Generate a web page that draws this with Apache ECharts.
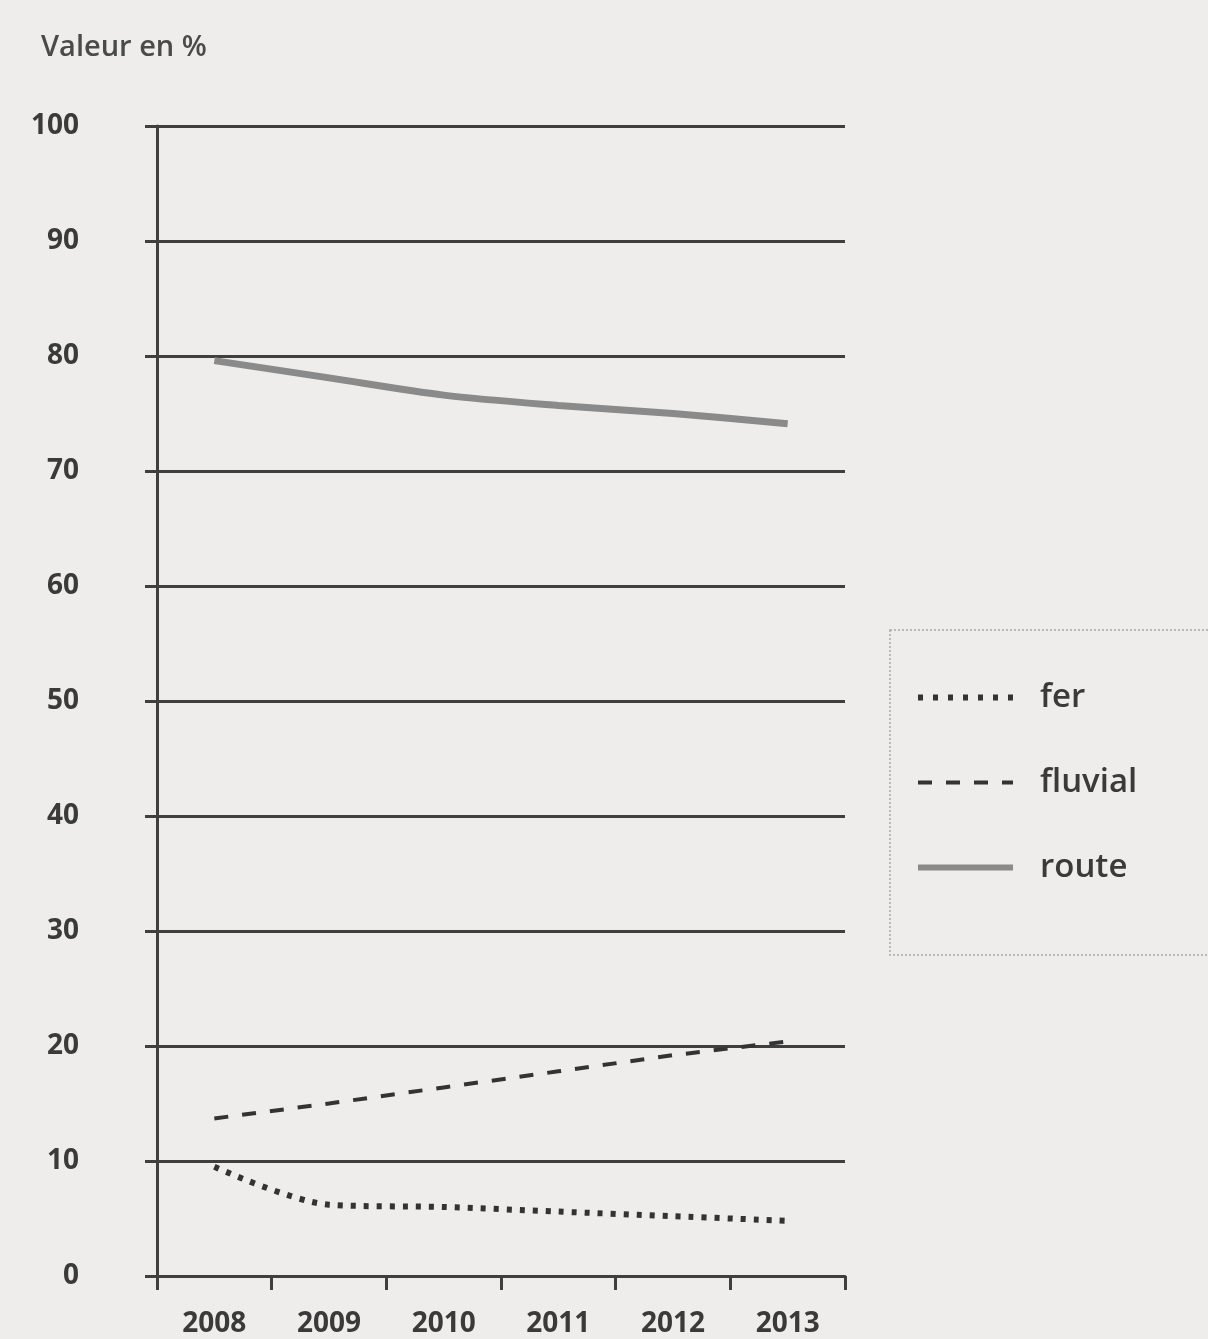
<!DOCTYPE html>
<html>
<head>
<meta charset="utf-8">
<script src="https://cdn.jsdelivr.net/npm/echarts@6/dist/echarts.min.js"></script>
<style>
  html, body { margin: 0; padding: 0; background: #eeedeb; }
  #chart { width: 1208px; height: 1339px; }
</style>
</head>
<body>
<div id="chart"></div>
<script>
// données
const years = ['2008', '2009', '2010', '2011', '2012', '2013'];
const fer = [9.5, 6.2, 6.0, 5.6, 5.2, 4.8];
const fluvial = [13.7, 15.0, 16.4, 17.8, 19.2, 20.4];
const route = [79.6, 78.1, 76.6, 75.7, 75.0, 74.1];

const chart = echarts.init(document.getElementById('chart'));
const txt = '#3a3a3a';
const gridCol = '#3f3f3f';

const option = {
  backgroundColor: '#eeedeb',
  animation: false,
  title: {
    text: 'Valeur en %',
    left: 36,
    top: 28,
    textStyle: { fontFamily: 'Open Sans', fontSize: 29, fontWeight: 600, color: '#4a4a4a' }
  },
  grid: { left: 157, right: 363, top: 126, bottom: 63 },
  legend: {
    orient: 'vertical',
    left: 910,
    top: 676,
    itemWidth: 95,
    itemHeight: 14,
    itemGap: 52,
    itemStyle: { opacity: 0 },
    textStyle: { fontFamily: 'Open Sans', fontSize: 33, fontWeight: 600, color: txt, padding: [0, 0, 0, 22] },
    data: [
      { name: 'fer', lineStyle: { width: 6, type: [5, 10] } },
      { name: 'fluvial', lineStyle: { width: 4, type: [14, 14] } },
      { name: 'route', lineStyle: { width: 6 } }
    ]
  },
  graphic: [{
    type: 'rect',
    shape: { x: 890, y: 630, width: 330, height: 325 },
    style: { fill: 'none', stroke: '#a8a8a8', lineWidth: 1.5, lineDash: [2, 2] }
  }],
  xAxis: {
    type: 'category',
    data: years,
    boundaryGap: true,
    axisLine: { show: true, lineStyle: { color: gridCol, width: 3 } },
    axisTick: { show: true, length: 14, lineStyle: { color: gridCol, width: 3 } },
    axisLabel: { margin: 34, fontFamily: 'Open Sans', fontSize: 28, fontWeight: 700, color: txt }
  },
  yAxis: {
    type: 'value',
    min: 0,
    max: 100,
    interval: 10,
    axisLine: { show: true, onZero: false, lineStyle: { color: gridCol, width: 3 } },
    axisTick: { show: true, length: 12, lineStyle: { color: gridCol, width: 3 } },
    splitLine: { show: true, lineStyle: { color: gridCol, width: 3 } },
    axisLabel: {
      margin: 78,
      align: 'right',
      padding: [0, 0, 14, 0],
      fontFamily: 'Open Sans', fontSize: 28, fontWeight: 700, color: txt
    }
  },
  series: [
    {
      name: 'fer',
      type: 'line',
      data: fer,
      symbol: 'none',
      smooth: 0.3,
      color: '#333',
      lineStyle: { color: '#333', width: 6, type: [5, 8] }
    },
    {
      name: 'fluvial',
      type: 'line',
      data: fluvial,
      symbol: 'none',
      color: '#333',
      lineStyle: { color: '#333', width: 4, type: [14, 14] }
    },
    {
      name: 'route',
      type: 'line',
      data: route,
      symbol: 'none',
      smooth: 0.3,
      color: '#8a8a8a',
      lineStyle: { color: '#8a8a8a', width: 7 }
    }
  ]
};
chart.setOption(option);
</script>
</body>
</html>
